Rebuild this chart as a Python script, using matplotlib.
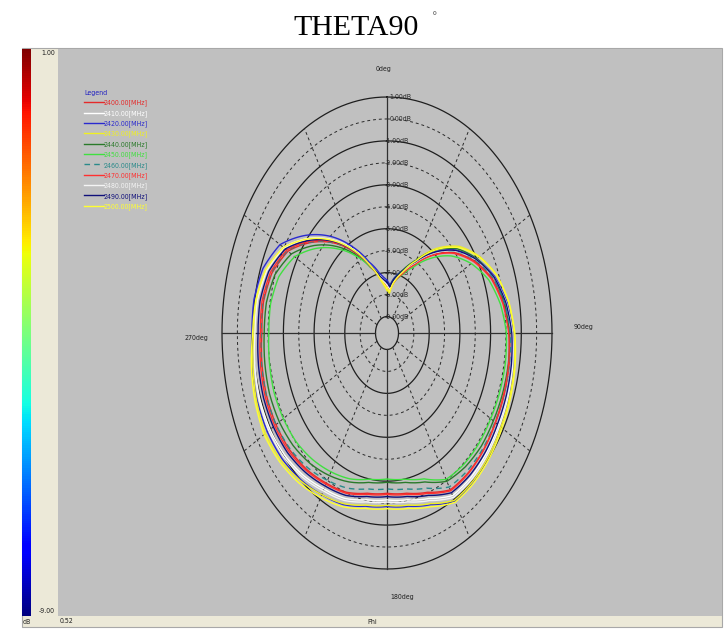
import numpy as np
import matplotlib
matplotlib.use('Agg')
import matplotlib.pyplot as plt
from matplotlib import font_manager
from matplotlib.patches import Rectangle
import matplotlib.transforms as mtransforms
from matplotlib.cm import ScalarMappable
from matplotlib.colors import Normalize

# ---------------- data ----------------
angles_deg = [0, 5, 10, 20, 30, 40, 50, 60, 70, 80, 90, 100, 110, 120, 130, 140, 150, 160, 170,
              180, 190, 200, 210, 220, 230, 240, 250, 260, 270, 280, 290, 300, 310, 320, 330,
              340, 350, 355]

freqs = ['2400.00[MHz]', '2410.00[MHz]', '2420.00[MHz]', '2430.00[MHz]',
         '2440.00[MHz]', '2450.00[MHz]', '2460.00[MHz]', '2470.00[MHz]',
         '2480.00[MHz]', '2490.00[MHz]', '2500.00[MHz]']

g2400 = [-7.55, -7.75, -7.4, -6.85, -6.12, -5.09, -4.05, -3.18, -2.47, -2.03, -1.77, -1.67, -1.62,
         -1.59, -1.51, -1.47, -1.5, -2.03, -2.34, -2.45, -2.34, -2.03, -1.85, -1.63, -1.47, -1.4,
         -1.4, -1.48, -1.6, -1.58, -1.77, -2.3, -3.33, -4.4, -5.5, -6.5, -7.2, -7.4]
g2410 = [-7.4, -7.61, -7.28, -6.75, -6.0, -4.95, -3.9, -3.04, -2.32, -1.88, -1.62, -1.5, -1.43,
         -1.38, -1.28, -1.2, -1.2, -1.73, -2.04, -2.15, -2.04, -1.73, -1.55, -1.28, -1.07, -0.95,
         -0.93, -1.0, -1.1, -1.13, -1.37, -1.95, -3.05, -4.2, -5.35, -6.4, -7.08, -7.26]
g2420 = [-7.35, -7.56, -7.23, -6.7, -5.97, -4.94, -3.88, -3.0, -2.27, -1.8, -1.52, -1.37, -1.28,
         -1.2, -1.08, -0.95, -0.9, -1.43, -1.74, -1.85, -1.74, -1.43, -1.25, -1.02, -0.83, -0.75,
         -0.75, -0.83, -0.95, -0.95, -1.15, -1.7, -2.83, -4.0, -5.2, -6.3, -7.0, -7.2]
g2430 = [-7.8, -7.93, -7.5, -6.8, -5.91, -4.72, -3.61, -2.78, -2.11, -1.7, -1.47, -1.33, -1.25,
         -1.19, -1.08, -0.98, -0.95, -1.48, -1.79, -1.9, -1.79, -1.48, -1.25, -0.97, -0.73, -0.6,
         -0.7, -0.88, -1.1, -1.15, -1.4, -2.0, -3.1, -4.25, -5.4, -6.45, -7.3, -7.58]
g2440 = [-7.45, -7.64, -7.28, -6.7, -5.91, -4.82, -3.78, -2.98, -2.34, -1.97, -1.77, -1.72, -1.73,
         -1.75, -1.73, -1.8, -1.95, -2.53, -2.84, -2.95, -2.84, -2.53, -2.25, -1.98, -1.77, -1.65,
         -1.61, -1.67, -1.75, -1.77, -1.98, -2.55, -3.55, -4.6, -5.63, -6.55, -7.18, -7.34]
g2450 = [-7.5, -7.74, -7.43, -6.95, -6.28, -5.31, -4.29, -3.42, -2.69, -2.24, -1.97, -1.92, -1.93,
         -1.95, -1.93, -1.95, -2.05, -2.68, -2.99, -3.1, -2.99, -2.68, -2.45, -2.22, -2.03, -1.95,
         -1.91, -1.97, -2.05, -2.05, -2.25, -2.8, -3.75, -4.75, -5.7, -6.55, -7.2, -7.38]
g2460 = [-7.5, -7.7, -7.35, -6.8, -6.05, -5.0, -3.95, -3.1, -2.4, -1.97, -1.72, -1.65, -1.63,
         -1.63, -1.58, -1.58, -1.65, -2.23, -2.54, -2.65, -2.54, -2.23, -2.0, -1.73, -1.52, -1.4,
         -1.38, -1.45, -1.55, -1.53, -1.72, -2.25, -3.3, -4.4, -5.48, -6.45, -7.15, -7.35]
g2470 = [-7.6, -7.8, -7.45, -6.9, -6.17, -5.14, -4.1, -3.24, -2.52, -2.08, -1.82, -1.7, -1.65,
         -1.6, -1.51, -1.44, -1.45, -1.98, -2.29, -2.4, -2.29, -1.98, -1.8, -1.57, -1.38, -1.3,
         -1.3, -1.38, -1.5, -1.48, -1.67, -2.2, -3.25, -4.35, -5.48, -6.5, -7.23, -7.44]
g2480 = [-7.55, -7.74, -7.38, -6.8, -6.05, -5.0, -3.93, -3.05, -2.32, -1.85, -1.57, -1.43, -1.35,
         -1.29, -1.18, -1.1, -1.1, -1.63, -1.94, -2.05, -1.94, -1.63, -1.45, -1.18, -0.97, -0.85,
         -0.88, -1.0, -1.15, -1.18, -1.42, -2.0, -3.1, -4.25, -5.4, -6.45, -7.18, -7.39]
g2490 = [-7.45, -7.65, -7.3, -6.75, -6.0, -4.95, -3.9, -3.04, -2.32, -1.88, -1.62, -1.52, -1.47,
         -1.44, -1.36, -1.32, -1.35, -1.88, -2.19, -2.3, -2.19, -1.88, -1.7, -1.47, -1.28, -1.2,
         -1.18, -1.25, -1.35, -1.35, -1.55, -2.1, -3.18, -4.3, -5.43, -6.45, -7.13, -7.31]
g2500 = [-7.7, -7.85, -7.45, -6.8, -5.95, -4.8, -3.69, -2.83, -2.12, -1.68, -1.42, -1.27, -1.18,
         -1.1, -0.98, -0.88, -0.85, -1.33, -1.64, -1.75, -1.64, -1.33, -1.1, -0.83, -0.62, -0.5,
         -0.6, -0.78, -1.0, -1.07, -1.33, -1.95, -3.08, -4.25, -5.4, -6.45, -7.25, -7.5]

series = [g2400, g2410, g2420, g2430, g2440, g2450, g2460, g2470, g2480, g2490, g2500]
colors = ['#e52a2a', '#ffffff', '#2a2ad0', '#f0f020', '#2a7a2a', '#40e040',
          '#2a8a8a', '#ff3030', '#f4f4f4', '#10107a', '#ffff30']
styles = ['-', '-', '-', '-', '-', '-', (0, (4, 3)), '-', '-', '-', '-']

ring_values = [1, 0, -1, -2, -3, -4, -5, -6, -7, -8, -9]
spoke_angles = [0, 30, 60, 90, 120, 150, 180, 210, 240, 270, 300, 330]

# ---------------- fonts ----------------
names = {f.name for f in font_manager.fontManager.ttflist}
if 'Liberation Sans Narrow' in names:
    SMALL = dict(family=['Liberation Sans Narrow', 'DejaVu Sans'], size=5.6)
else:
    SMALL = dict(family=['DejaVu Sans'], size=5.0, stretch='condensed')
serif = ['Liberation Serif', 'DejaVu Serif']

W, H = 725, 629
fig = plt.figure(figsize=(7.25, 6.29), dpi=100)
fig.patch.set_facecolor('white')


def fx(x):
    return x / W


def fy(y):
    return 1 - y / H


# panel background
fig.add_artist(Rectangle((fx(22), fy(627)), fx(722) - fx(22), fy(48) - fy(627),
                         transform=fig.transFigure, facecolor='#ECE9D8',
                         edgecolor='#A8A8A8', lw=0.8, zorder=-3))
fig.add_artist(Rectangle((fx(58), fy(616)), fx(722) - fx(58), fy(49) - fy(616),
                         transform=fig.transFigure, facecolor='#C0C0C0',
                         edgecolor='none', zorder=-2))

# colour bar
cax = fig.add_axes([fx(22), fy(616), fx(30.7) - fx(22), fy(49) - fy(616)])
cb = fig.colorbar(ScalarMappable(norm=Normalize(-9, 1), cmap='jet'), cax=cax)
cb.set_ticks([])
cb.outline.set_visible(False)

# polar axes (elliptical)
ax = fig.add_axes([fx(222), fy(569), fx(552) - fx(222), fy(97) - fy(569)],
                  projection='polar')
ax.set_aspect('auto')
ax.set_facecolor('none')
ax.set_theta_zero_location('N')
ax.set_theta_direction(-1)
ax.grid(False)
ax.set_xticks([])
ax.set_yticks([])
ax.spines['polar'].set_visible(False)

th = np.linspace(0, 2 * np.pi, 721)
for v in ring_values:
    if v % 2 != 0:
        ax.plot(th, np.full_like(th, v), color='#1e1e1e', lw=0.9, zorder=1, clip_on=False)
    else:
        ax.plot(th, np.full_like(th, v), color='#2a2a2a', lw=0.7,
                linestyle=(0, (3, 3)), zorder=1, clip_on=False)
for a in spoke_angles:
    if a % 90 == 0:
        ax.plot([np.deg2rad(a)] * 2, [-9, 1], color='#303030', lw=0.9, zorder=1, clip_on=False)
    else:
        ax.plot([np.deg2rad(a)] * 2, [-9, 1], color='#2a2a2a', lw=0.7,
                linestyle=(0, (3, 3)), zorder=1, clip_on=False)
ax.set_ylim(-9.75, 1.0)

# ring labels
for v in ring_values:
    off = -2.4 if v < 0 else 2.2
    tr = mtransforms.offset_copy(ax.transData, fig=fig, x=off * 0.72, y=0, units='points')
    ax.text(0, v, f'{v:.2f}dB', transform=tr, ha='left', va='center',
            color='#282828', zorder=2, **SMALL)

# curves (segments follow the polar arcs between samples)
handles = []
for vals, c, ls, lab in zip(series, colors, styles, freqs):
    ln, = ax.plot(np.deg2rad(angles_deg + [360]), vals + [vals[0]], color=c,
                  lw=1.0, linestyle=ls, zorder=3, label=lab, clip_on=False)
    try:
        ln.get_path()._interpolation_steps = 12
    except Exception:
        pass
    handles.append(ln)

leg = ax.legend(handles=handles, loc='upper left', bbox_to_anchor=(fx(84), fy(90)),
                bbox_transform=fig.transFigure, frameon=False, title='Legend',
                alignment='left', labelcolor='linecolor', handlelength=2.85,
                handletextpad=0.0, labelspacing=0.52, borderaxespad=0, borderpad=0,
                prop=SMALL, title_fontproperties=SMALL)
leg.get_title().set_color('#2020c0')

# direction labels
fig.text(fx(376), fy(69), '0deg', ha='left', va='center', color='#202020', **SMALL)
fig.text(fx(574), fy(327), '90deg', ha='left', va='center', color='#202020', **SMALL)
fig.text(fx(390), fy(597), '180deg', ha='left', va='center', color='#202020', **SMALL)
fig.text(fx(185), fy(338), '270deg', ha='left', va='center', color='#202020', **SMALL)

# colour bar / bottom strip texts
fig.text(fx(41), fy(53), '1.00', ha='left', va='center', color='#202020', **SMALL)
fig.text(fx(39), fy(611), '-9.00', ha='left', va='center', color='#202020', **SMALL)
fig.text(fx(23), fy(622), 'dB', ha='left', va='center', color='#202020', **SMALL)
fig.text(fx(60), fy(621), '0.52', ha='left', va='center', color='#202020', **SMALL)
fig.text(fx(372), fy(622), 'Phi', ha='center', va='center', color='#202020', **SMALL)

# title
fig.text(fx(356), fy(35), 'THETA90', ha='center', va='baseline', family=serif,
         size=21.5, color='black')
fig.text(fx(435), fy(16), '°', ha='center', va='center', family=['DejaVu Sans'],
         size=8, color='#707070')

fig.savefig('out.png', dpi=100)
